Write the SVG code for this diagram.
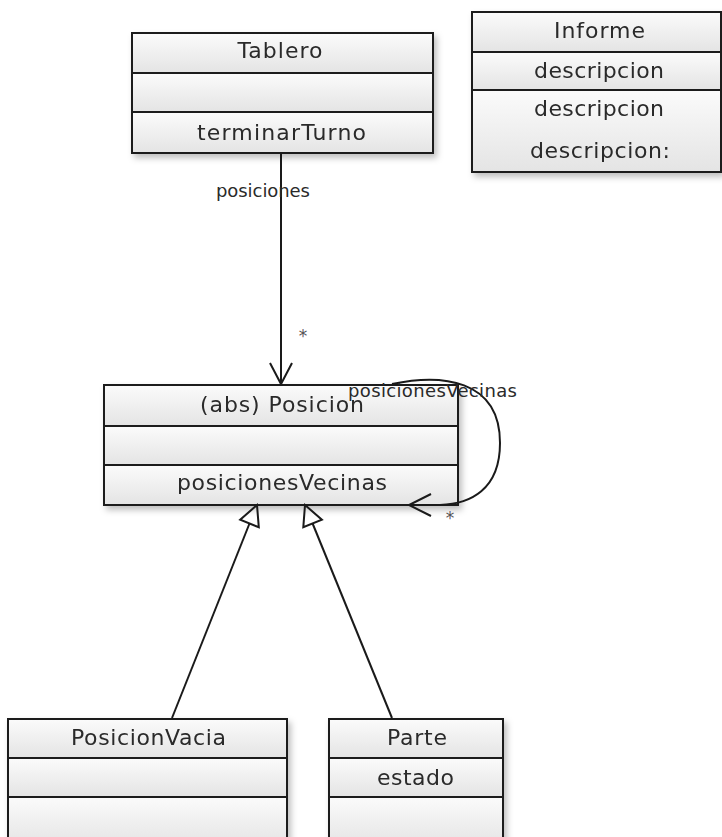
<svg xmlns="http://www.w3.org/2000/svg" width="722" height="837" viewBox="0 0 722 837">
<style>
.comp{fill:url(#g);stroke:#1a1a1a;stroke-width:2}
.t{font-family:"DejaVu Sans",sans-serif;font-size:22px;fill:#2a2a2a;text-anchor:middle}
.l{font-family:"DejaVu Sans",sans-serif;font-size:18px;fill:#2a2a2a}
.m{font-family:"DejaVu Sans",sans-serif;font-size:17px;fill:#555;text-anchor:middle}
.edge{fill:none;stroke:#1a1a1a;stroke-width:2}
</style>
<defs>
<linearGradient id="g" x1="0" y1="0" x2="0" y2="1">
<stop offset="0" stop-color="#fbfbfb"/>
<stop offset="1" stop-color="#e4e4e4"/>
</linearGradient>
<filter id="sh" x="-10%" y="-10%" width="130%" height="130%">
<feDropShadow dx="3" dy="4" stdDeviation="3" flood-color="#000" flood-opacity="0.25"/>
</filter>
</defs>
<rect width="722" height="837" fill="#fff"/>

<g id="Tablero" filter="url(#sh)">
<rect class="comp" x="132" y="33" width="301" height="40"/>
<rect class="comp" x="132" y="73" width="301" height="39"/>
<rect class="comp" x="132" y="112" width="301" height="41"/>
<text class="t" x="280" y="58" textLength="85" lengthAdjust="spacing">Tablero</text>
<text class="t" x="281.5" y="140" textLength="169" lengthAdjust="spacing">terminarTurno</text>
</g>

<g id="Informe" filter="url(#sh)">
<rect class="comp" x="472" y="12" width="249" height="40"/>
<rect class="comp" x="472" y="52" width="249" height="38"/>
<rect class="comp" x="472" y="90" width="249" height="82"/>
<text class="t" x="599.5" y="38" textLength="91" lengthAdjust="spacing">Informe</text>
<text class="t" x="599" y="78" textLength="130" lengthAdjust="spacing">descripcion</text>
<text class="t" x="599" y="116" textLength="130" lengthAdjust="spacing">descripcion</text>
<text class="t" x="600" y="158" textLength="140" lengthAdjust="spacing">descripcion:</text>
</g>

<g id="Posicion" filter="url(#sh)">
<rect class="comp" x="104" y="385" width="354" height="41"/>
<rect class="comp" x="104" y="426" width="354" height="39"/>
<rect class="comp" x="104" y="465" width="354" height="40"/>
<text class="t" x="282" y="412" textLength="164" lengthAdjust="spacing">(abs) Posicion</text>
<text class="t" x="282" y="490" textLength="210" lengthAdjust="spacing">posicionesVecinas</text>
</g>

<g id="PosicionVacia" filter="url(#sh)">
<rect class="comp" x="8" y="719" width="279" height="39"/>
<rect class="comp" x="8" y="758" width="279" height="39"/>
<rect class="comp" x="8" y="797" width="279" height="50"/>
<text class="t" x="148.5" y="745" textLength="155" lengthAdjust="spacing">PosicionVacia</text>
</g>

<g id="Parte" filter="url(#sh)">
<rect class="comp" x="329" y="719" width="174" height="39"/>
<rect class="comp" x="329" y="758" width="174" height="39"/>
<rect class="comp" x="329" y="797" width="174" height="50"/>
<text class="t" x="417" y="745" textLength="60" lengthAdjust="spacing">Parte</text>
<text class="t" x="415.5" y="785" textLength="77" lengthAdjust="spacing">estado</text>
</g>

<g id="connectors">
<line class="edge" x1="281" y1="153" x2="281" y2="383"/>
<polyline class="edge" points="270,363 281,384 292,363" stroke-width="3" stroke-linejoin="miter"/>
<text class="l" x="216" y="197" textLength="94" lengthAdjust="spacing">posiciones</text>
<text class="m" x="303" y="342">*</text>

<path class="edge" d="M 392 384 C 440 374, 500 378, 500 443 C 500 490, 470 504, 440 505 L 410 505"/>
<polyline class="edge" points="431,494 409,505 431,516" stroke-width="2.5"/>
<text class="l" x="348" y="397" textLength="169" lengthAdjust="spacing">posicionesVecinas</text>
<text class="m" x="450" y="524">*</text>

<line class="edge" x1="172" y1="718" x2="249.5" y2="523.5"/>
<polygon class="edge" points="257,505 258.8,527.3 240.2,519.7" fill="#fff"/>
<line class="edge" x1="392" y1="718" x2="312.6" y2="523.5"/>
<polygon class="edge" points="305,505 321.9,519.7 303.3,527.3" fill="#fff"/>
</g>
</svg>
